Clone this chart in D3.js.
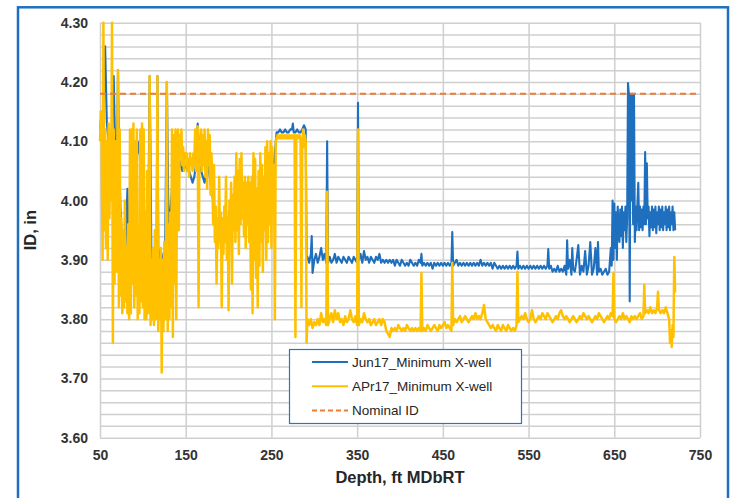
<!DOCTYPE html>
<html>
<head>
<meta charset="utf-8">
<script src="https://cdn.jsdelivr.net/npm/d3@7"></script>
<style>
  body { margin: 0; background: #fff; }
  text { font-family: "Liberation Sans", Arial, sans-serif; }
</style>
</head>
<body>
<div id="viz_container"></div>
<script>
// axis ticks
const xTicks = [50, 150, 250, 350, 450, 550, 650, 750];
const yTicks = [3.60, 3.70, 3.80, 3.90, 4.00, 4.10, 4.20, 4.30];

// series names
const seriesNames = ["Jun17_Minimum X-well", "APr17_Minimum X-well", "Nominal ID"];

// [depth ft, ID in]
const junPoints = [
  [50,4.12],[52,4.15],[54,4.14],[56,4.26],[58,4.13],[60,4.10],[62,4.09],[64,4.12],[66,4.21],[68,4.06],
  [70,4.10],[71,4.22],[72,4.08],[74,3.98],[76,3.92],[78,3.89],[80,3.93],[82,4.02],[84,3.90],[86,3.93],
  [88,3.89],[90,3.96],[92,4.02],[94,4.10],[96,4.08],[98,4.10],[100,4.02],[102,3.97],[104,3.95],[106,3.92],
  [108,4.21],[110,3.90],[112,3.92],[114,3.89],[116,3.91],[117,4.21],[118,3.92],[120,3.90],[122,3.89],[124,3.91],
  [126,3.92],[128,4.20],[130,3.95],[132,3.98],[134,4.02],[136,4.04],[138,4.07],[140,4.08],[142,4.07],[144,4.06],
  [146,4.05],[148,4.06],[150,4.06],[152,4.05],[154,4.05],[156,4.04],[158,4.03],[160,4.04],[162,4.06],[164,4.13],
  [166,4.07],[168,4.05],[170,4.04],[172,4.03],[174,4.05],[176,4.06],[178,4.04],[180,4.02],[182,4.00],[184,3.98],
  [186,3.96],[188,3.95],[190,3.97],[192,3.95],[194,3.94],[196,3.95],[198,3.96],[200,3.97],[202,3.99],[204,3.98],
  [206,4.00],[208,4.01],[210,4.02],[212,4.00],[214,3.99],[216,3.985],[218,3.97],[220,3.98],[222,4.00],[224,4.01],
  [226,4.00],[228,3.99],[230,3.98],[232,3.99],[234,3.98],[236,4.00],[238,4.02],[240,4.01],[242,4.03],[244,4.05],
  [246,4.04],[248,4.02],[250,4.03],[252,4.05],[254,4.08],[256,4.115],[258,4.115],[260,4.12],[262,4.115],[264,4.115],
  [266,4.12],[268,4.115],[270,4.115],[272,4.12],[274,4.12],[275,4.13],[276,4.115],[278,4.115],[280,4.12],[282,4.115],
  [284,4.115],[286,4.12],[288,4.127],[290,4.12],[291,3.90],
  [292,3.905],[294,3.895],[296,3.91],[297,3.94],[298,3.878],[300,3.90],[302,3.91],[304,3.895],[306,3.905],[308,3.92],
  [310,3.90],[312,3.91],[314,3.895],[315,4.10],[316,3.895],[318,3.905],[320,3.895],[322,3.90],[324,3.91],[326,3.895],
  [328,3.905],[330,3.90],[332,3.895],[334,3.905],[336,3.90],[338,3.895],[340,3.905],[342,3.90],[344,3.895],[346,3.905],
  [348,3.90],[350,3.895],[351,4.165],[352,3.90],[354,3.91],[356,3.895],[358,3.915],[360,3.90],[362,3.905],[364,3.895],
  [366,3.905],[368,3.90],[370,3.895],[372,3.905],[374,3.90],[376,3.91],[378,3.895],[380,3.90],[382,3.895],[384,3.90],
  [386,3.895],[388,3.90],[390,3.895],[392,3.90],[394,3.89],[396,3.90],[398,3.895],[400,3.89],[402,3.90],[404,3.895],
  [406,3.89],[408,3.895],[410,3.89],[412,3.90],[414,3.895],[416,3.89],[418,3.895],[420,3.89],[422,3.90],[424,3.895],
  [425,3.91],[426,3.89],[428,3.895],[430,3.89],[432,3.895],[434,3.89],[436,3.895],[438,3.885],[440,3.895],[442,3.89],
  [444,3.895],[446,3.89],[448,3.895],[450,3.89],[452,3.895],[454,3.89],[456,3.895],[458,3.89],[460,3.895],[461,3.947],
  [462,3.89],[464,3.895],[466,3.90],[468,3.89],[470,3.895],[472,3.89],[474,3.895],[476,3.89],[478,3.895],[480,3.89],
  [482,3.895],[484,3.89],[486,3.895],[488,3.89],[490,3.895],[492,3.89],[494,3.90],[496,3.89],[498,3.895],[500,3.89],
  [502,3.895],[504,3.89],[506,3.895],[508,3.885],[510,3.895],[512,3.89],[514,3.885],[516,3.89],[518,3.885],[520,3.89],
  [522,3.885],[524,3.89],[526,3.885],[528,3.89],[530,3.885],[532,3.89],[534,3.885],[536,3.89],[537,3.914],[538,3.885],
  [540,3.89],[542,3.885],[544,3.89],[546,3.885],[548,3.89],[550,3.885],[552,3.89],[554,3.885],[556,3.89],[558,3.885],
  [560,3.89],[562,3.885],[564,3.89],[566,3.885],[568,3.89],[570,3.885],[572,3.89],[573,3.918],[574,3.885],[576,3.89],
  [578,3.88],[580,3.885],[582,3.88],[584,3.89],[586,3.88],[588,3.885],[590,3.88],[592,3.89],[594,3.875],[595,3.933],
  [596,3.885],[598,3.90],[600,3.875],[601,3.92],[602,3.885],[604,3.88],[606,3.90],[608,3.925],[610,3.875],[612,3.89],
  [614,3.88],[616,3.915],[618,3.875],[620,3.89],[622,3.93],[624,3.875],[626,3.885],[628,3.92],[630,3.875],[631,3.93],
  [632,3.88],[634,3.885],[636,3.875],[638,3.88],[640,3.885],[642,3.875],[644,3.88],[646,3.92],[647,3.89],[648,4.00],
  [649,3.90],[650,3.995],[651,3.92],[652,3.98],[653,3.90],[654,3.99],[656,3.93],[657,3.985],[658,3.94],[659,3.99],
  [660,3.92],[661,3.98],[662,3.95],[663,3.99],[664,3.93],[665,3.97],[666,4.198],[667,4.18],[668,3.83],[669,4.18],
  [670,4.00],[671,4.18],[672,3.96],[673,4.18],[674,3.93],[675,3.99],[676,3.95],[677,3.995],[678,4.03],[679,3.95],
  [680,3.99],[681,3.955],[682,3.985],[683,3.95],[684,3.99],[685,3.96],[686,4.082],[687,3.96],[688,4.063],[689,3.97],
  [690,3.99],[691,3.94],[692,3.98],[693,3.955],[694,3.99],[695,3.95],[696,3.985],[697,3.955],[698,3.99],[699,3.945],
  [700,3.98],[701,3.96],[702,3.99],[703,3.95],[704,3.985],[705,3.955],[706,3.99],[707,3.95],[708,3.98],[709,3.96],
  [710,3.99],[711,3.95],[712,3.985],[713,3.955],[714,3.99],[715,3.95],[716,3.98],[717,3.96],[718,3.99],[719,3.95],
  [720,3.98],[721,3.95]
];

const aprPoints = [
  [50,4.10],[51,4.15],[52,4.10],[53,3.90],[54,4.30],[55,3.95],[56,4.12],[57,3.92],[58,4.10],[59,3.90],
  [60,4.13],[61,3.97],[62,4.12],[63,4.00],[64,4.30],[65,3.76],[66,4.12],[67,3.86],[68,4.10],[69,3.88],
  [70,4.05],[71,4.22],[72,3.82],[73,4.12],[74,3.84],[75,3.97],[76,3.81],[77,3.95],[78,3.82],[79,4.00],
  [80,3.83],[81,3.92],[82,3.81],[83,3.96],[84,3.80],[85,4.12],[86,3.81],[87,4.12],[88,3.86],[89,4.13],
  [90,3.82],[91,4.10],[92,3.84],[93,4.12],[94,3.80],[95,3.95],[96,3.81],[97,4.12],[98,3.83],[99,4.13],
  [100,3.82],[101,4.12],[102,3.80],[103,3.98],[104,3.80],[105,4.05],[106,3.81],[107,3.93],[108,4.21],[109,3.79],
  [110,3.90],[111,3.80],[112,3.92],[113,3.79],[114,3.95],[115,3.80],[116,3.88],[117,4.21],[118,3.78],[119,3.90],
  [120,3.80],[121,3.92],[122,3.71],[123,3.90],[124,3.78],[125,3.93],[126,3.80],[127,3.90],[128,4.20],[129,3.78],
  [130,3.96],[131,3.80],[132,3.98],[133,3.82],[134,4.12],[135,3.77],[136,4.11],[137,3.86],[138,4.12],[139,3.80],
  [140,4.10],[141,4.12],[142,3.95],[143,4.11],[144,4.08],[145,4.12],[146,4.06],[147,4.09],[148,4.05],[149,4.08],
  [150,4.06],[151,4.08],[152,4.05],[153,4.07],[154,4.04],[155,4.08],[156,4.06],[157,4.07],[158,4.05],[159,4.08],
  [160,4.06],[161,4.12],[162,4.05],[163,4.07],[164,4.125],[165,3.82],[166,4.10],[167,4.06],[168,4.12],[169,4.05],
  [170,4.11],[171,4.06],[172,4.12],[173,4.04],[174,4.10],[175,4.02],[176,4.12],[177,4.06],[178,4.11],[179,4.01],
  [180,4.08],[181,4.04],[182,3.96],[183,4.06],[184,3.93],[185,3.99],[186,3.86],[187,3.97],[188,3.92],[189,4.04],
  [190,3.93],[191,3.98],[192,3.82],[193,3.97],[194,3.91],[195,3.99],[196,3.93],[197,4.04],[198,3.90],[199,3.97],
  [200,3.815],[201,4.00],[202,3.94],[203,4.03],[204,3.86],[205,4.01],[206,3.95],[207,4.04],[208,3.93],[209,4.08],
  [210,3.95],[211,4.05],[212,3.91],[213,4.07],[214,3.96],[215,4.08],[216,3.97],[217,4.03],[218,3.94],[219,4.04],
  [220,3.92],[221,4.03],[222,3.96],[223,4.04],[224,3.93],[225,4.03],[226,3.85],[227,4.04],[228,3.81],[229,4.08],
  [230,3.90],[231,4.07],[232,3.87],[233,4.02],[234,3.82],[235,4.05],[236,3.89],[237,4.08],[238,3.93],[239,4.06],
  [240,3.88],[241,4.04],[242,3.95],[243,4.09],[244,3.90],[245,4.10],[246,3.93],[247,4.08],[248,3.96],[249,4.10],
  [250,3.92],[251,4.09],[252,3.98],[253,4.06],[254,3.80],[255,4.10],[256,4.105],[257,4.11],[258,4.105],[259,4.11],
  [260,4.105],[261,4.11],[262,4.105],[263,4.11],[264,4.105],[265,4.11],[266,4.105],[267,4.11],[268,4.105],[269,4.11],
  [270,4.105],[271,4.11],[272,4.105],[273,4.11],[274,4.105],[275,4.11],[276,4.105],[277,4.11],[278,3.77],[279,4.11],
  [280,4.105],[281,4.11],[282,4.105],[283,4.11],[284,4.10],[285,3.82],[286,4.10],[287,4.12],[288,4.09],[289,4.11],
  [290,4.10],[291,3.76],
  [292,3.80],[294,3.79],[296,3.80],[298,3.785],[300,3.795],[302,3.79],[304,3.80],[306,3.79],[308,3.81],[310,3.795],
  [312,3.80],[314,3.79],[315,4.015],[316,3.79],[318,3.80],[320,3.81],[322,3.795],[324,3.815],[326,3.80],[328,3.81],
  [330,3.795],[332,3.80],[334,3.79],[336,3.805],[338,3.795],[340,3.80],[342,3.815],[344,3.80],[346,3.795],[348,3.805],
  [350,3.79],[351,4.12],[352,3.79],[354,3.80],[356,3.795],[358,3.81],[360,3.80],[362,3.795],[364,3.80],[366,3.79],
  [368,3.795],[370,3.80],[372,3.79],[374,3.795],[376,3.80],[378,3.79],[380,3.80],[382,3.795],[384,3.78],[386,3.775],
  [388,3.77],[390,3.785],[392,3.78],[394,3.785],[396,3.78],[398,3.79],[400,3.785],[402,3.78],[404,3.785],[406,3.78],
  [408,3.79],[410,3.785],[412,3.78],[414,3.785],[416,3.78],[418,3.785],[420,3.78],[422,3.785],[424,3.78],[425,3.878],
  [426,3.78],[428,3.785],[430,3.78],[432,3.79],[434,3.785],[436,3.78],[438,3.785],[440,3.79],[442,3.785],[444,3.78],
  [446,3.79],[448,3.785],[450,3.79],[452,3.795],[454,3.785],[456,3.79],[458,3.785],[460,3.78],[461,3.895],[462,3.79],
  [464,3.80],[466,3.795],[468,3.80],[470,3.805],[472,3.795],[474,3.80],[476,3.805],[478,3.80],[480,3.795],[482,3.80],
  [484,3.805],[486,3.80],[488,3.81],[490,3.80],[492,3.805],[494,3.80],[496,3.81],[498,3.824],[500,3.80],[502,3.795],
  [504,3.79],[506,3.785],[508,3.79],[510,3.785],[512,3.78],[514,3.79],[516,3.785],[518,3.78],[520,3.79],[522,3.785],
  [524,3.78],[526,3.79],[528,3.785],[530,3.78],[532,3.785],[534,3.78],[536,3.79],[537,3.88],[538,3.795],[540,3.80],
  [542,3.805],[544,3.80],[546,3.81],[548,3.80],[550,3.795],[552,3.80],[554,3.815],[556,3.80],[558,3.795],[560,3.80],
  [562,3.805],[564,3.80],[566,3.81],[568,3.805],[570,3.80],[572,3.81],[574,3.805],[576,3.80],[578,3.795],[580,3.80],
  [582,3.805],[584,3.80],[586,3.81],[588,3.815],[590,3.805],[592,3.80],[594,3.805],[596,3.80],[598,3.795],[600,3.80],
  [602,3.805],[604,3.80],[606,3.795],[608,3.80],[610,3.805],[612,3.80],[614,3.81],[616,3.805],[618,3.80],[620,3.805],
  [622,3.80],[624,3.795],[626,3.80],[628,3.805],[630,3.80],[632,3.81],[634,3.805],[636,3.80],[638,3.795],[640,3.80],
  [642,3.805],[644,3.80],[646,3.81],[648,3.805],[649,3.878],[650,3.80],[652,3.795],[654,3.80],[656,3.805],[658,3.80],
  [660,3.81],[662,3.80],[664,3.805],[666,3.80],[668,3.795],[670,3.805],[672,3.80],[674,3.805],[676,3.80],[678,3.805],
  [680,3.81],[682,3.80],[684,3.805],[685,3.858],[686,3.81],[688,3.815],[690,3.81],[692,3.82],[694,3.81],[696,3.815],
  [698,3.81],[700,3.82],[701,3.846],[702,3.815],[704,3.81],[706,3.815],[708,3.81],[710,3.82],[712,3.81],[714,3.80],
  [715,3.76],[716,3.78],[717,3.753],[718,3.79],[719,3.77],[720,3.905],[721,3.845]
];

const nominalPoints = [[50, 4.18], [750, 4.18]];

// set the dimensions and margins of the graph
const margin = { top: 22.7, right: 30, bottom: 60.3, left: 100 };
const width = 730 - margin.left - margin.right;
const height = 498 - margin.top - margin.bottom;

const colors = ["#1F6FBF", "#FFC000", "#ED7D31"];

const root = d3.select("#viz_container")
  .append("svg")
  .attr("width", 730)
  .attr("height", 498);

// blue outer frame
root.append("rect")
  .attr("x", 18).attr("y", 7.3)
  .attr("width", 710).attr("height", 500)
  .attr("fill", "none")
  .attr("stroke", "#1F6FBF")
  .attr("stroke-width", 2.5);

const svg = root.append("g")
  .attr("transform", `translate(${margin.left}, ${margin.top})`);

// scales
const xScale = d3.scaleLinear().domain([50, 750]).range([0, width]);
const yScale = d3.scaleLinear().domain([3.6, 4.3]).range([height, 0]);

// horizontal grid every 0.02
const gridY = d3.range(0, 36).map(i => 3.6 + i * 0.02);
svg.append("g")
  .attr("class", "grid")
  .call(d3.axisLeft(yScale).tickValues(gridY).tickSize(-width).tickFormat(""))
  .call(g => g.select(".domain").remove())
  .call(g => g.selectAll("line").attr("stroke", "#cfcfcf").attr("stroke-width", 1.5));

// vertical grid
svg.append("g")
  .attr("class", "grid")
  .attr("transform", `translate(0,${height})`)
  .call(d3.axisBottom(xScale).tickValues(xTicks).tickSize(-height).tickFormat(""))
  .call(g => g.select(".domain").remove())
  .call(g => g.selectAll("line").attr("stroke", "#cfcfcf").attr("stroke-width", 1.5));

// X axis labels
svg.append("g")
  .attr("transform", `translate(0,${height})`)
  .call(d3.axisBottom(xScale).tickValues(xTicks).tickSize(0).tickPadding(12).tickFormat(d3.format("d")))
  .call(g => g.select(".domain").remove())
  .call(g => g.selectAll("text")
    .attr("font-size", 14).attr("font-weight", "bold").attr("fill", "#333")
    .attr("font-family", "Liberation Sans, Arial, sans-serif"));

// Y axis labels
svg.append("g")
  .call(d3.axisLeft(yScale).tickValues(yTicks).tickSize(0).tickPadding(12).tickFormat(d3.format(".2f")))
  .call(g => g.select(".domain").remove())
  .call(g => g.selectAll("text")
    .attr("font-size", 14).attr("font-weight", "bold").attr("fill", "#333")
    .attr("font-family", "Liberation Sans, Arial, sans-serif"));

// lines
const line = d3.line()
  .x(d => xScale(d[0]))
  .y(d => yScale(d[1]));

svg.append("path")
  .datum(junPoints)
  .attr("fill", "none")
  .attr("stroke", colors[0])
  .attr("stroke-width", 2.1)
  .attr("stroke-linejoin", "round")
  .attr("d", line);

svg.append("path")
  .datum(aprPoints)
  .attr("fill", "none")
  .attr("stroke", colors[1])
  .attr("stroke-width", 2.5)
  .attr("stroke-linejoin", "round")
  .attr("d", line);

svg.append("path")
  .datum(nominalPoints)
  .attr("fill", "none")
  .attr("stroke", colors[2])
  .attr("stroke-width", 2)
  .attr("stroke-dasharray", "6,4")
  .attr("d", line);

// axis titles
svg.append("text")
  .attr("x", width / 2)
  .attr("y", height + 45)
  .attr("text-anchor", "middle")
  .attr("font-size", 16.5)
  .attr("font-weight", "bold")
  .attr("fill", "#262626")
  .text("Depth, ft MDbRT");

svg.append("text")
  .attr("transform", `translate(${-64}, ${height / 2}) rotate(-90)`)
  .attr("text-anchor", "middle")
  .attr("font-size", 16.5)
  .attr("font-weight", "bold")
  .attr("fill", "#262626")
  .text("ID, in");

// legend
const legend = root.append("g").attr("transform", "translate(289.5, 349.5)");
legend.append("rect")
  .attr("width", 232).attr("height", 74)
  .attr("fill", "#fff")
  .attr("stroke", "#2E75B6")
  .attr("stroke-width", 1.2);

seriesNames.forEach((name, i) => {
  const ly = 12.5 + i * 24.3;
  legend.append("line")
    .attr("x1", 22.5).attr("x2", 58.5)
    .attr("y1", ly).attr("y2", ly)
    .attr("stroke", colors[i])
    .attr("stroke-width", 2)
    .attr("stroke-dasharray", i === 2 ? "5,3" : null);
  legend.append("text")
    .attr("x", 62.5).attr("y", ly)
    .attr("dy", "0.35em")
    .attr("font-size", 13.5)
    .attr("fill", "#262626")
    .text(name);
});
</script>
</body>
</html>
